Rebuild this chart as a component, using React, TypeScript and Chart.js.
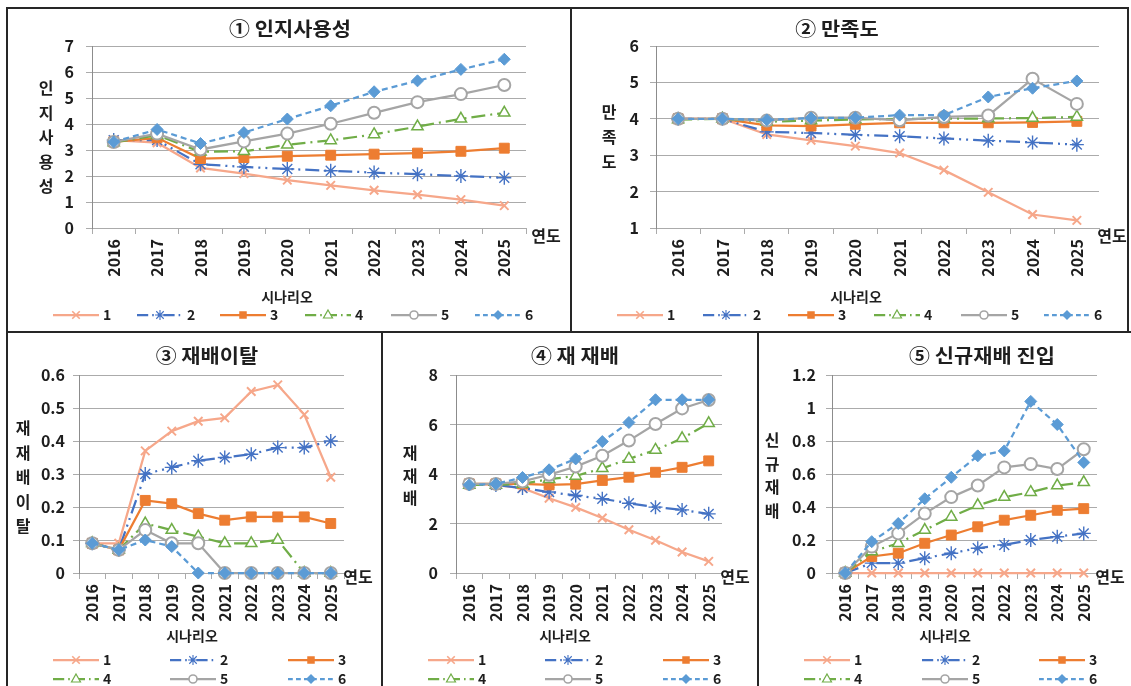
import React, { useEffect, useRef } from "react";
import { Chart, registerables } from "chart.js";

Chart.register(...registerables);

// ---- categories & legend names ----
const years = ["2016", "2017", "2018", "2019", "2020", "2021", "2022", "2023", "2024", "2025"];
const scenarios = ["1", "2", "3", "4", "5", "6"];

// ---- ① 인지사용성 (scenario 1..6) ----
const awareness = [
  [3.38, 3.28, 2.31, 2.09, 1.84, 1.64, 1.45, 1.28, 1.09, 0.86],
  [3.38, 3.38, 2.45, 2.35, 2.27, 2.2, 2.13, 2.07, 2.0, 1.93],
  [3.31, 3.47, 2.67, 2.71, 2.76, 2.8, 2.84, 2.88, 2.95, 3.07],
  [3.29, 3.57, 2.93, 2.95, 3.2, 3.37, 3.6, 3.9, 4.2, 4.43],
  [3.31, 3.63, 3.02, 3.33, 3.63, 4.01, 4.43, 4.84, 5.15, 5.5],
  [3.31, 3.79, 3.25, 3.67, 4.19, 4.7, 5.24, 5.66, 6.1, 6.49],
];

// ---- ② 만족도 ----
const satisfaction = [
  [4.0, 4.0, 3.57, 3.41, 3.25, 3.06, 2.59, 1.98, 1.37, 1.21],
  [4.0, 4.0, 3.64, 3.61, 3.56, 3.52, 3.46, 3.4, 3.35, 3.29],
  [4.0, 4.0, 3.82, 3.8, 3.85, 3.89, 3.89, 3.89, 3.9, 3.93],
  [3.98, 4.0, 3.92, 3.95, 3.98, 4.0, 4.0, 4.01, 4.02, 4.05],
  [4.0, 4.0, 3.95, 4.03, 4.03, 3.96, 4.05, 4.09, 5.1, 4.41],
  [4.0, 4.0, 3.97, 4.02, 4.03, 4.1, 4.1, 4.6, 4.84, 5.04],
];

// ---- ③ 재배이탈 ----
const dropout = [
  [0.09, 0.09, 0.37, 0.43, 0.46, 0.47, 0.55, 0.57, 0.48, 0.29],
  [0.09, 0.07, 0.3, 0.32, 0.34, 0.35, 0.36, 0.38, 0.38, 0.4],
  [0.09, 0.07, 0.22, 0.21, 0.18, 0.16, 0.17, 0.17, 0.17, 0.15],
  [0.09, 0.07, 0.15, 0.13, 0.11, 0.09, 0.09, 0.1, 0, 0],
  [0.09, 0.07, 0.13, 0.09, 0.09, 0, 0, 0, 0, 0],
  [0.09, 0.07, 0.1, 0.08, 0, 0, 0, 0, 0, 0],
];

// ---- ④ 재 재배 ----
const recultivation = [
  [3.6, 3.55, 3.43, 3.02, 2.65, 2.22, 1.75, 1.32, 0.85, 0.47],
  [3.6, 3.56, 3.43, 3.27, 3.13, 3.0, 2.82, 2.66, 2.55, 2.39],
  [3.6, 3.6, 3.6, 3.56, 3.59, 3.74, 3.87, 4.07, 4.27, 4.53],
  [3.56, 3.56, 3.6, 3.79, 3.92, 4.23, 4.61, 4.97, 5.44, 6.05],
  [3.6, 3.6, 3.7, 3.97, 4.3, 4.74, 5.35, 6.02, 6.65, 6.99],
  [3.56, 3.6, 3.86, 4.17, 4.61, 5.31, 6.08, 7.0, 7.0, 7.0],
];

// ---- ⑤ 신규재배 진입 ----
const newEntry = [
  [0, 0, 0, 0, 0, 0, 0, 0, 0, 0],
  [0, 0.06, 0.06, 0.09, 0.12, 0.15, 0.17, 0.2, 0.22, 0.24],
  [0, 0.1, 0.12, 0.18, 0.23, 0.28, 0.32, 0.35, 0.38, 0.39],
  [0, 0.13, 0.18, 0.26, 0.34, 0.41, 0.46, 0.49, 0.53, 0.55],
  [0, 0.16, 0.24, 0.36, 0.46, 0.53, 0.64, 0.66, 0.63, 0.75],
  [0, 0.19, 0.3, 0.45, 0.58, 0.71, 0.74, 1.04, 0.9, 0.67],
];

// ---- series styles ----
type SeriesStyle = {
  color: string;
  fill: string;
  dash: number[];
  point: "crossRot" | "star" | "rect" | "triangle" | "circle" | "rectRot";
  radius: number;
  pointBorder: number;
};

const seriesStyles: SeriesStyle[] = [
  { color: "#F6A78A", fill: "#F6A78A", dash: [], point: "crossRot", radius: 6, pointBorder: 2 },
  { color: "#4472C4", fill: "#4472C4", dash: [14, 5, 2, 5, 2, 5], point: "star", radius: 7, pointBorder: 1.4 },
  { color: "#ED7D31", fill: "#ED7D31", dash: [], point: "rect", radius: 7, pointBorder: 1 },
  { color: "#70AD47", fill: "#FFFFFF", dash: [14, 5, 2, 5], point: "triangle", radius: 6.5, pointBorder: 1.5 },
  { color: "#A5A5A5", fill: "#FFFFFF", dash: [], point: "circle", radius: 6, pointBorder: 2 },
  { color: "#5B9BD5", fill: "#5B9BD5", dash: [6, 4], point: "rectRot", radius: 6, pointBorder: 1 },
];

const FONT = "'Noto Sans CJK KR', 'Noto Sans', sans-serif";
const TEXT = "#1E1E1E";
const GRID = "#ABABAB";
const AXIS = "#8C8C8C";

type PanelCfg = {
  box: { x: number; y: number; w: number; h: number };
  plot: { l: number; r: number; t: number; b: number };
  yLabelRight: number;
  min: number;
  max: number;
  step: number;
  values: number[][];
  title: string;
  titlePos: [number, number];
  yTitle: string[];
  yTitleX: number;
  yTitleY: number;
  yTitleGap: number;
  yearPos: [number, number];
  legendTitlePos: [number, number];
  legendItems: [number, number][];
};

const topLegendY = 315;
const bottomRow1 = 660;
const bottomRow2 = 679;

const panels: PanelCfg[] = [
  {
    box: { x: 8, y: 9, w: 562, h: 322 },
    plot: { l: 92, r: 526, t: 46, b: 228 },
    yLabelRight: 74,
    min: 0, max: 7, step: 1,
    values: awareness,
    title: "① 인지사용성",
    titlePos: [290, 29],
    yTitle: ["인", "지", "사", "용", "성"],
    yTitleX: 46, yTitleY: 88, yTitleGap: 24.5,
    yearPos: [546, 236],
    legendTitlePos: [287, 297],
    legendItems: [53, 137, 220, 305, 391, 475].map((x) => [x, topLegendY] as [number, number]),
  },
  {
    box: { x: 572, y: 9, w: 555, h: 322 },
    plot: { l: 656, r: 1099, t: 46, b: 228 },
    yLabelRight: 639,
    min: 1, max: 6, step: 1,
    values: satisfaction,
    title: "② 만족도",
    titlePos: [837, 29],
    yTitle: ["만", "족", "도"],
    yTitleX: 609, yTitleY: 112, yTitleGap: 25,
    yearPos: [1112, 236],
    legendTitlePos: [856, 297],
    legendItems: [617, 703, 788, 874, 961, 1044].map((x) => [x, topLegendY] as [number, number]),
  },
  {
    box: { x: 8, y: 333, w: 373, h: 353 },
    plot: { l: 79, r: 344, t: 375, b: 573 },
    yLabelRight: 65,
    min: 0, max: 0.6, step: 0.1,
    values: dropout,
    title: "③ 재배이탈",
    titlePos: [207, 356],
    yTitle: ["재", "재", "배", "이", "탈"],
    yTitleX: 23, yTitleY: 428, yTitleGap: 24.5,
    yearPos: [358, 577],
    legendTitlePos: [192, 636],
    legendItems: [
      [53, bottomRow1], [170, bottomRow1], [288, bottomRow1],
      [53, bottomRow2], [170, bottomRow2], [288, bottomRow2],
    ],
  },
  {
    box: { x: 383, y: 333, w: 374, h: 353 },
    plot: { l: 456, r: 722, t: 375, b: 573 },
    yLabelRight: 438,
    min: 0, max: 8, step: 2,
    values: recultivation,
    title: "④ 재 재배",
    titlePos: [575, 356],
    yTitle: ["재", "재", "배"],
    yTitleX: 410, yTitleY: 453, yTitleGap: 22.5,
    yearPos: [735, 577],
    legendTitlePos: [565, 636],
    legendItems: [
      [428, bottomRow1], [545, bottomRow1], [663, bottomRow1],
      [428, bottomRow2], [545, bottomRow2], [663, bottomRow2],
    ],
  },
  {
    box: { x: 759, y: 333, w: 372, h: 353 },
    plot: { l: 832, r: 1097, t: 375, b: 573 },
    yLabelRight: 816,
    min: 0, max: 1.2, step: 0.2,
    values: newEntry,
    title: "⑤ 신규재배 진입",
    titlePos: [982, 356],
    yTitle: ["신", "규", "재", "배"],
    yTitleX: 772, yTitleY: 440, yTitleGap: 23.5,
    yearPos: [1110, 577],
    legendTitlePos: [945, 636],
    legendItems: [
      [804, bottomRow1], [922, bottomRow1], [1039, bottomRow1],
      [804, bottomRow2], [922, bottomRow2], [1039, bottomRow2],
    ],
  },
];

// small marker painter for the legend samples
function paintMarker(ctx: CanvasRenderingContext2D, s: SeriesStyle, x: number, y: number, r: number) {
  ctx.save();
  ctx.setLineDash([]);
  ctx.strokeStyle = s.color;
  ctx.fillStyle = s.fill;
  ctx.lineWidth = Math.max(1, s.pointBorder * 0.8);
  ctx.beginPath();
  switch (s.point) {
    case "crossRot": {
      const d = r * 0.75;
      ctx.moveTo(x - d, y - d); ctx.lineTo(x + d, y + d);
      ctx.moveTo(x + d, y - d); ctx.lineTo(x - d, y + d);
      ctx.stroke();
      break;
    }
    case "star": {
      const d = r * 0.75;
      ctx.moveTo(x, y - r); ctx.lineTo(x, y + r);
      ctx.moveTo(x - r, y); ctx.lineTo(x + r, y);
      ctx.moveTo(x - d, y - d); ctx.lineTo(x + d, y + d);
      ctx.moveTo(x + d, y - d); ctx.lineTo(x - d, y + d);
      ctx.stroke();
      break;
    }
    case "rect": {
      const d = r * 0.75;
      ctx.rect(x - d, y - d, 2 * d, 2 * d);
      ctx.fill();
      break;
    }
    case "triangle": {
      ctx.moveTo(x, y - r);
      ctx.lineTo(x + r * 0.9, y + r * 0.6);
      ctx.lineTo(x - r * 0.9, y + r * 0.6);
      ctx.closePath();
      ctx.fill();
      ctx.stroke();
      break;
    }
    case "circle": {
      ctx.arc(x, y, r * 0.8, 0, Math.PI * 2);
      ctx.fill();
      ctx.stroke();
      break;
    }
    case "rectRot": {
      ctx.moveTo(x, y - r); ctx.lineTo(x + r, y); ctx.lineTo(x, y + r); ctx.lineTo(x - r, y);
      ctx.closePath();
      ctx.fill();
      break;
    }
  }
  ctx.restore();
}

// text centred at (x, y) with an optional horizontal stretch
function stretchedText(ctx: CanvasRenderingContext2D, text: string, x: number, y: number, sx: number) {
  ctx.save();
  ctx.translate(x, y);
  ctx.scale(sx, 1);
  ctx.fillText(text, 0, 0);
  ctx.restore();
}

// titles, stacked axis captions, "연도" and the scenario legend
function decorPlugin(cfg: PanelCfg) {
  return {
    id: "panelDecor",
    afterDraw(chart: Chart) {
      const ctx = chart.ctx;
      const ox = cfg.box.x;
      const oy = cfg.box.y;
      ctx.save();
      ctx.fillStyle = TEXT;
      ctx.textAlign = "center";
      ctx.textBaseline = "middle";

      ctx.font = `bold 19px ${FONT}`;
      stretchedText(ctx, cfg.title, cfg.titlePos[0] - ox, cfg.titlePos[1] - oy, 1.1);

      ctx.font = `bold 16px ${FONT}`;
      cfg.yTitle.forEach((ch, i) => {
        ctx.fillText(ch, cfg.yTitleX - ox, cfg.yTitleY + i * cfg.yTitleGap - oy);
      });

      ctx.font = `bold 16px ${FONT}`;
      ctx.fillText("연도", cfg.yearPos[0] - ox, cfg.yearPos[1] - oy);

      ctx.font = `bold 14px ${FONT}`;
      ctx.fillText("시나리오", cfg.legendTitlePos[0] - ox, cfg.legendTitlePos[1] - oy);

      const lineLen = 46;
      cfg.legendItems.forEach(([lx, ly], i) => {
        const s = seriesStyles[i];
        const x0 = lx - ox;
        const y0 = ly - oy;
        ctx.save();
        ctx.strokeStyle = s.color;
        ctx.lineWidth = 2.25;
        ctx.setLineDash(s.dash.map((d) => d * 0.8));
        ctx.beginPath();
        ctx.moveTo(x0, y0);
        ctx.lineTo(x0 + lineLen, y0);
        ctx.stroke();
        ctx.restore();
        paintMarker(ctx, s, x0 + lineLen / 2, y0, 5);
        ctx.fillStyle = TEXT;
        ctx.textAlign = "left";
        ctx.font = `bold 14px ${FONT}`;
        ctx.fillText(scenarios[i], x0 + lineLen + 4, y0);
      });
      ctx.restore();
    },
  };
}

function Panel({ cfg }: { cfg: PanelCfg }) {
  const ref = useRef<HTMLCanvasElement>(null);

  useEffect(() => {
    const canvas = ref.current;
    if (!canvas) return;
    const { box, plot } = cfg;
    const yAxisWidth = plot.l - box.x;
    const xAxisHeight = box.y + box.h - plot.b;
    const chart = new Chart(canvas, {
      type: "line",
      data: {
        labels: years,
        datasets: cfg.values.map((vals, i) => {
          const s = seriesStyles[i];
          return {
            label: scenarios[i],
            data: vals,
            borderColor: s.color,
            backgroundColor: s.fill,
            borderWidth: 2.25,
            borderDash: s.dash,
            pointStyle: s.point,
            pointRadius: s.radius,
            pointBorderWidth: s.pointBorder,
            pointBackgroundColor: s.fill,
            pointBorderColor: s.color,
            tension: 0,
            fill: false,
            clip: false,
            order: 5 - i,
          };
        }),
      },
      options: {
        responsive: false,
        animation: false,
        events: [],
        layout: {
          padding: {
            left: 0,
            right: box.x + box.w - plot.r,
            top: plot.t - box.y,
            bottom: 0,
          },
        },
        plugins: {
          legend: { display: false },
          title: { display: false },
          tooltip: { enabled: false },
        },
        scales: {
          x: {
            type: "category",
            offset: true,
            grid: {
              offset: true,
              drawOnChartArea: false,
              drawTicks: true,
              tickLength: 6,
              color: GRID,
            },
            border: { display: true, color: GRID },
            ticks: {
              autoSkip: false,
              minRotation: 90,
              maxRotation: 90,
              padding: 5,
              color: TEXT,
              font: { family: FONT, size: 16, weight: "bold" },
            },
            afterFit: (s: any) => {
              s.height = xAxisHeight;
            },
          },
          y: {
            type: "linear",
            min: cfg.min,
            max: cfg.max,
            grid: { color: GRID, tickLength: 6, drawTicks: true },
            border: { display: true, color: AXIS },
            ticks: {
              stepSize: cfg.step,
              padding: plot.l - 6 - cfg.yLabelRight,
              color: TEXT,
              font: { family: FONT, size: 16, weight: "bold" },
              callback: (v: any) => String(Math.round(Number(v) * 10) / 10),
            },
            afterFit: (s: any) => {
              s.width = yAxisWidth;
            },
          },
        },
      },
      plugins: [decorPlugin(cfg)],
    });
    return () => chart.destroy();
  }, [cfg]);

  const { box } = cfg;
  return (
    <canvas
      ref={ref}
      width={box.w}
      height={box.h}
      style={{ position: "absolute", left: box.x, top: box.y, width: box.w, height: box.h }}
    />
  );
}

const FRAME = "#262626";
const frameLines = [
  { left: 7, top: 7, width: 1122, height: 2 },
  { left: 6, top: 7, width: 2, height: 679 },
  { left: 570, top: 7, width: 2, height: 326 },
  { left: 1127, top: 7, width: 2, height: 326 },
  { left: 6, top: 331, width: 1125, height: 2 },
  { left: 381, top: 331, width: 2, height: 355 },
  { left: 757, top: 331, width: 2, height: 355 },
];

export default function App() {
  return (
    <div
      style={{
        position: "fixed",
        left: 0,
        top: 0,
        width: 1131,
        height: 686,
        background: "#FFFFFF",
        overflow: "hidden",
      }}
    >
      {panels.map((p, i) => (
        <Panel key={i} cfg={p} />
      ))}
      {frameLines.map((f, i) => (
        <div key={"f" + i} style={{ position: "absolute", background: FRAME, ...f }} />
      ))}
    </div>
  );
}
